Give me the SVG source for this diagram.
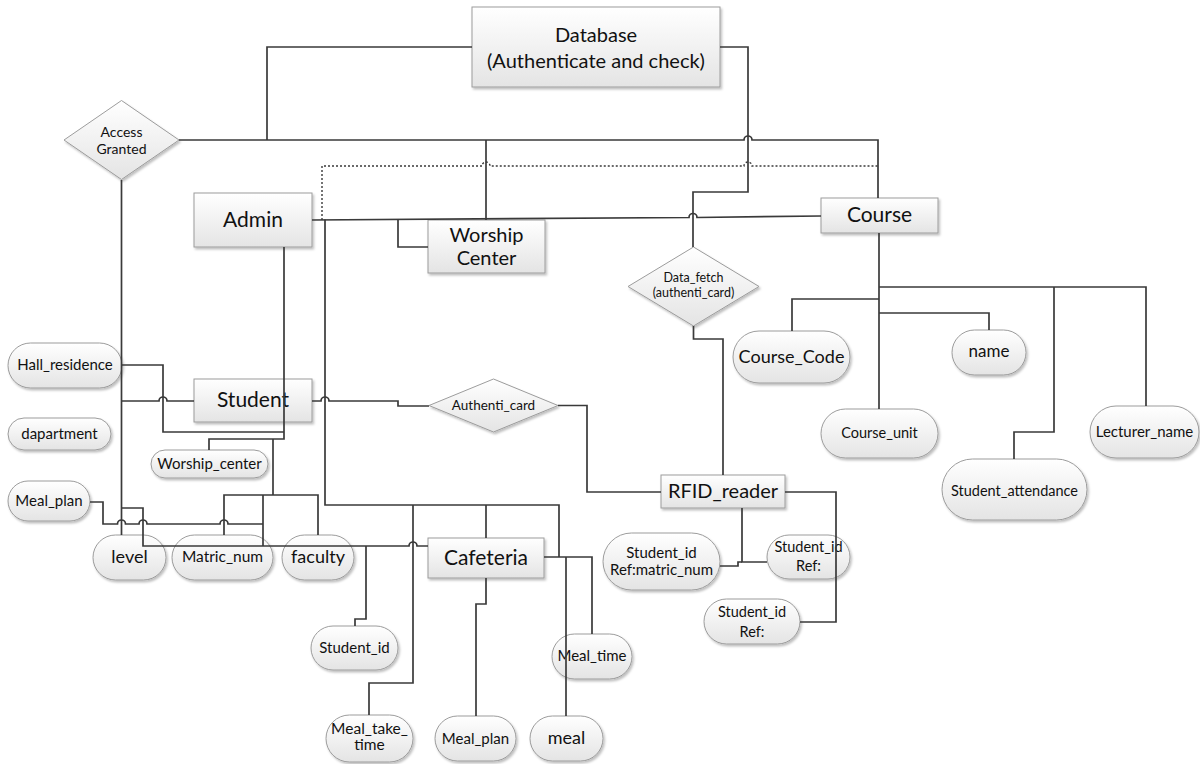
<svg xmlns="http://www.w3.org/2000/svg" width="1200" height="764" viewBox="0 0 1200 764">
<defs>
<linearGradient id="g" x1="0" y1="0" x2="0" y2="1">
<stop offset="0" stop-color="#ffffff"/>
<stop offset="1" stop-color="#e4e4e4"/>
</linearGradient>
<filter id="sh" x="-10%" y="-10%" width="130%" height="140%">
<feDropShadow dx="1.5" dy="2" stdDeviation="1" flood-color="#000" flood-opacity="0.25"/>
</filter>
</defs>
<style>
.n{fill:url(#g);stroke:#9c9c9c;stroke-width:1;filter:url(#sh)}
.t{font-family:Lato,"Liberation Sans",sans-serif;fill:#111;text-anchor:middle}
.c{fill:none;stroke:#3a3a3a;stroke-width:1.7}
.d{fill:none;stroke:#3a3a3a;stroke-width:1.4;stroke-dasharray:2 2}
</style>
<rect width="1200" height="764" fill="#fff"/>

<g id="database"><rect class="n" x="472" y="7" width="248" height="80"/><text class="t" x="596" y="42" font-size="20">Database</text><text class="t" x="596" y="68" font-size="20">(Authenticate and check)</text></g>
<g id="admin"><rect class="n" x="194" y="193" width="118" height="54"/><text class="t" x="253" y="227" font-size="21">Admin</text></g>
<g id="worship-center"><rect class="n" x="428" y="220" width="117" height="53"/><text class="t" x="486.5" y="242" font-size="20">Worship</text><text class="t" x="486.5" y="265" font-size="20">Center</text></g>
<g id="course"><rect class="n" x="821" y="198" width="117" height="35"/><text class="t" x="879.5" y="222" font-size="21">Course</text></g>
<g id="student"><rect class="n" x="194" y="379" width="118" height="43"/><text class="t" x="253" y="407" font-size="21">Student</text></g>
<g id="cafeteria"><rect class="n" x="428" y="538" width="116" height="40"/><text class="t" x="486" y="565" font-size="21">Cafeteria</text></g>
<g id="rfid-reader"><rect class="n" x="661" y="475" width="124" height="33"/><text class="t" x="723" y="498" font-size="20">RFID_reader</text></g>

<g id="access-granted"><polygon class="n" points="121.5,100.5 179,140 121.5,179.5 64,140"/><text class="t" x="121.5" y="137" font-size="14">Access</text><text class="t" x="121.5" y="154" font-size="14">Granted</text></g>
<g id="data-fetch"><polygon class="n" points="693.5,247 759,286.5 693.5,326 628,286.5"/><text class="t" x="693.5" y="282" font-size="12.5">Data_fetch</text><text class="t" x="693.5" y="297" font-size="12.5">(authenti_card)</text></g>
<g id="authenti-card"><polygon class="n" points="493.5,379 558,405.5 493.5,432 429,405.5"/><text class="t" x="493.5" y="410" font-size="13.5">Authenti_card</text></g>

<g id="hall-residence"><rect class="n" x="8" y="343" width="114" height="45" rx="22.5"/><text class="t" x="65" y="370" font-size="15">Hall_residence</text></g>
<g id="dapartment"><rect class="n" x="8" y="418" width="103" height="32" rx="16"/><text class="t" x="59.5" y="439" font-size="15">dapartment</text></g>
<g id="worship-center-attr"><rect class="n" x="151" y="450" width="117" height="28" rx="14"/><text class="t" x="209.5" y="469" font-size="15">Worship_center</text></g>
<g id="meal-plan-left"><rect class="n" x="8" y="481" width="82" height="40" rx="20"/><text class="t" x="49" y="506" font-size="15">Meal_plan</text></g>
<g id="level"><rect class="n" x="93" y="535" width="73" height="45" rx="22.5"/><text class="t" x="129.5" y="563" font-size="18">level</text></g>
<g id="matric-num"><rect class="n" x="172" y="535" width="101" height="45" rx="22.5"/><text class="t" x="222.5" y="562" font-size="15.5">Matric_num</text></g>
<g id="faculty"><rect class="n" x="282" y="535" width="72" height="45" rx="22.5"/><text class="t" x="318" y="563" font-size="18">faculty</text></g>
<g id="student-id"><rect class="n" x="311" y="626" width="87" height="44" rx="22"/><text class="t" x="354.5" y="653" font-size="15">Student_id</text></g>
<g id="meal-take-time"><rect class="n" x="326" y="715" width="87" height="47" rx="23.5"/><text class="t" x="369.5" y="734" font-size="15.5">Meal_take_</text><text class="t" x="369.5" y="750" font-size="15.5">time</text></g>
<g id="meal-plan"><rect class="n" x="435" y="716" width="81" height="45" rx="22.5"/><text class="t" x="475.5" y="744" font-size="15">Meal_plan</text></g>
<g id="meal"><rect class="n" x="530" y="716" width="73" height="45" rx="22.5"/><text class="t" x="566.5" y="744" font-size="18">meal</text></g>
<g id="meal-time"><rect class="n" x="552" y="634" width="80" height="45" rx="22.5"/><text class="t" x="592" y="661" font-size="15">Meal_time</text></g>
<g id="student-id-matric"><rect class="n" x="603" y="533" width="117" height="57" rx="28.5"/><text class="t" x="661.5" y="558" font-size="15">Student_id</text><text class="t" x="661.5" y="575" font-size="15">Ref:matric_num</text></g>
<g id="student-id-ref1"><rect class="n" x="767" y="535" width="83" height="44" rx="22"/><text class="t" x="808.5" y="552" font-size="14.5">Student_id</text><text class="t" x="808.5" y="571" font-size="14.5">Ref:</text></g>
<g id="student-id-ref2"><rect class="n" x="704" y="599" width="96" height="45" rx="22.5"/><text class="t" x="752" y="617" font-size="14.5">Student_id</text><text class="t" x="752" y="637" font-size="14.5">Ref:</text></g>
<g id="course-code"><rect class="n" x="733" y="331" width="117" height="52" rx="26"/><text class="t" x="791.5" y="363" font-size="18">Course_Code</text></g>
<g id="name"><rect class="n" x="952" y="330" width="74" height="45" rx="22.5"/><text class="t" x="989" y="357" font-size="17">name</text></g>
<g id="course-unit"><rect class="n" x="821" y="409" width="117" height="49" rx="24.5"/><text class="t" x="879.5" y="438" font-size="14.5">Course_unit</text></g>
<g id="lecturer-name"><rect class="n" x="1090" y="406" width="109" height="52" rx="26"/><text class="t" x="1144.5" y="437" font-size="15">Lecturer_name</text></g>
<g id="student-attendance"><rect class="n" x="942" y="459" width="145" height="61" rx="30.5"/><text class="t" x="1014.5" y="496" font-size="14.5">Student_attendance</text></g>

<g id="connectors">
<path class="c" d="M472,47 H267 V140"/>
<path class="c" d="M179,140 H744 a4,4 0 0 1 8,0 H878 V198"/>
<path class="c" d="M486,140 V220"/>
<path class="c" d="M720,47 H748 V192 H693 V247"/>
<path class="d" d="M322,220 V166 H482 a4,4 0 0 1 8,0 H744 a4,4 0 0 1 8,0 H878"/>
<path class="c" d="M312,220 L689,217.5 a4,4 0 0 1 8,0 L821,216"/>
<path class="c" d="M398,219.5 V247 H428"/>
<path class="c" d="M121.5,180 V535"/>
<path class="c" d="M122,365 H163 V432 H284"/>
<path class="c" d="M122,401 H159 a4,4 0 0 1 8,0 H194"/>
<path class="c" d="M284,247 V439 H209 V450"/>
<path class="c" d="M273,439 V495"/>
<path class="c" d="M224,535 V495 H318 V535"/>
<path class="c" d="M263,495 V546"/>
<path class="c" d="M90,502 H103 V524 H117.5 a4,4 0 0 1 8,0 H139 a4,4 0 0 1 8,0 H220 a4,4 0 0 1 8,0 H263"/>
<path class="c" d="M428,546 H417 a4,4 0 0 0 -8,0 H143 V508 H122"/>
<path class="c" d="M366,546 V619 H355 V626"/>
<path class="c" d="M325,219.5 V505 H559 V557"/>
<path class="c" d="M413,505 V683 H369 V715"/>
<path class="c" d="M486,505 V538"/>
<path class="c" d="M486,578 V604 H476 V716"/>
<path class="c" d="M544,557 H592 V634"/>
<path class="c" d="M566,557 V716"/>
<path class="c" d="M312,401 H321 a4,4 0 0 1 8,0 H398 V406 H429"/>
<path class="c" d="M558,405.5 H587 V492 H661"/>
<path class="c" d="M693.5,326 V339 H723 V475"/>
<path class="c" d="M785,492 H836 V622 H800"/>
<path class="c" d="M742,508 V562 H767"/>
<path class="c" d="M742,562 H738 V566 H720"/>
<path class="c" d="M879,233 V409"/>
<path class="c" d="M879,287 H1146 V406"/>
<path class="c" d="M1054,287 V432 H1014 V459"/>
<path class="c" d="M879,299 H792 V331"/>
<path class="c" d="M879,313 H989 V330"/>
</g>
</svg>
